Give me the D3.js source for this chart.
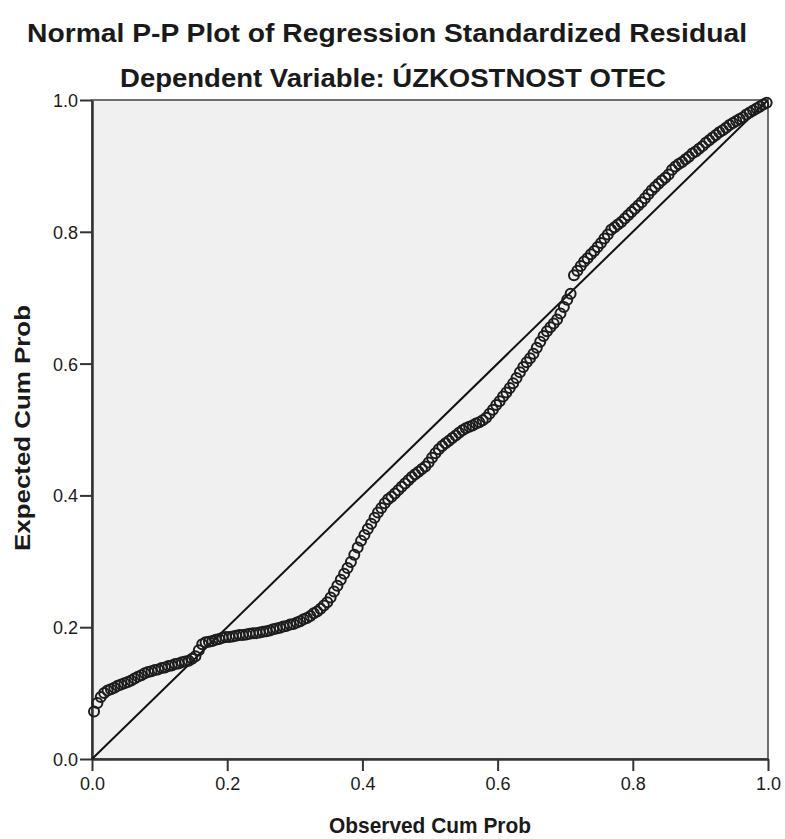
<!DOCTYPE html>
<html>
<head>
  <meta charset="utf-8">
  <title>pp-plot</title>
  <style>
    * { margin: 0; padding: 0; }
    body { background: #fff; }
    text { font-family: "Liberation Sans", Arial, sans-serif; fill: #1a1a1a; }
  </style>
</head>
<body>
  <svg id="svg"></svg>
  <script src="https://cdnjs.cloudflare.com/ajax/libs/d3/7.8.5/d3.min.js"></script>
  <script>
    const title = 'Normal P-P Plot of Regression Standardized Residual';
    const subtitle = 'Dependent Variable: ÚZKOSTNOST OTEC';
    const xTitle = 'Observed Cum Prob';
    const yTitle = 'Expected Cum Prob';
    const tickValues = [0, 0.2, 0.4, 0.6, 0.8, 1.0];

    // observed cumulative probability of each case
    const observed = [
      0.003, 0.008, 0.013, 0.018, 0.023, 0.028, 0.033, 0.038, 0.043, 0.048,
      0.053, 0.058, 0.063, 0.068, 0.073, 0.078, 0.083, 0.088, 0.093, 0.098,
      0.103, 0.108, 0.113, 0.118, 0.123, 0.128, 0.133, 0.138, 0.143, 0.148,
      0.153, 0.158, 0.163, 0.168, 0.173, 0.178, 0.183, 0.188, 0.193, 0.198,
      0.203, 0.208, 0.213, 0.218, 0.223, 0.228, 0.233, 0.238, 0.243, 0.248,
      0.253, 0.258, 0.263, 0.268, 0.273, 0.278, 0.283, 0.288, 0.293, 0.298,
      0.303, 0.308, 0.313, 0.318, 0.323, 0.328, 0.333, 0.338, 0.343, 0.348,
      0.353, 0.358, 0.363, 0.368, 0.373, 0.378, 0.383, 0.388, 0.393, 0.398,
      0.403, 0.408, 0.413, 0.418, 0.423, 0.428, 0.433, 0.438, 0.443, 0.448,
      0.453, 0.458, 0.463, 0.468, 0.473, 0.478, 0.483, 0.488, 0.493, 0.498,
      0.503, 0.508, 0.513, 0.518, 0.523, 0.528, 0.533, 0.538, 0.543, 0.548,
      0.553, 0.558, 0.563, 0.568, 0.573, 0.578, 0.583, 0.588, 0.593, 0.598,
      0.603, 0.608, 0.613, 0.618, 0.623, 0.628, 0.633, 0.638, 0.643, 0.648,
      0.653, 0.658, 0.663, 0.668, 0.673, 0.678, 0.683, 0.688, 0.693, 0.698,
      0.703, 0.708, 0.713, 0.718, 0.723, 0.728, 0.733, 0.738, 0.743, 0.748,
      0.753, 0.758, 0.763, 0.768, 0.773, 0.778, 0.783, 0.788, 0.793, 0.798,
      0.803, 0.808, 0.813, 0.818, 0.823, 0.828, 0.833, 0.838, 0.843, 0.848,
      0.853, 0.858, 0.863, 0.868, 0.873, 0.878, 0.883, 0.888, 0.893, 0.898,
      0.903, 0.908, 0.913, 0.918, 0.923, 0.928, 0.933, 0.938, 0.943, 0.948,
      0.953, 0.958, 0.963, 0.968, 0.973, 0.978, 0.983, 0.988, 0.993, 0.998
    ];

    // expected cumulative probability
    const expected = [
      0.072, 0.085, 0.094, 0.100, 0.104, 0.106, 0.108, 0.111, 0.113, 0.115,
      0.117, 0.119, 0.122, 0.125, 0.127, 0.130, 0.132, 0.133, 0.135, 0.136,
      0.138, 0.139, 0.141, 0.142, 0.144, 0.145, 0.147, 0.148, 0.149, 0.152,
      0.156, 0.165, 0.174, 0.177, 0.178, 0.179, 0.181, 0.182, 0.184, 0.185,
      0.185, 0.186, 0.187, 0.188, 0.188, 0.189, 0.190, 0.191, 0.191, 0.192,
      0.193, 0.194, 0.195, 0.197, 0.198, 0.199, 0.201, 0.202, 0.204, 0.205,
      0.207, 0.209, 0.212, 0.214, 0.217, 0.221, 0.224, 0.228, 0.233, 0.238,
      0.245, 0.254, 0.263, 0.272, 0.281, 0.290, 0.299, 0.310, 0.321, 0.331,
      0.340, 0.349, 0.357, 0.366, 0.374, 0.381, 0.388, 0.394, 0.398, 0.403,
      0.408, 0.413, 0.418, 0.423, 0.428, 0.432, 0.436, 0.440, 0.444, 0.450,
      0.457, 0.464, 0.470, 0.475, 0.479, 0.483, 0.487, 0.491, 0.495, 0.499,
      0.502, 0.504, 0.506, 0.509, 0.511, 0.514, 0.518, 0.524, 0.530, 0.537,
      0.543, 0.550, 0.556, 0.563, 0.570, 0.578, 0.587, 0.595, 0.602, 0.608,
      0.615, 0.624, 0.633, 0.642, 0.649, 0.655, 0.661, 0.667, 0.676, 0.686,
      0.697, 0.706, 0.734, 0.741, 0.748, 0.755, 0.760, 0.766, 0.771, 0.777,
      0.783, 0.790, 0.796, 0.803, 0.807, 0.811, 0.815, 0.820, 0.825, 0.830,
      0.835, 0.840, 0.845, 0.851, 0.857, 0.863, 0.868, 0.873, 0.878, 0.882,
      0.887, 0.894, 0.899, 0.903, 0.906, 0.910, 0.914, 0.919, 0.922, 0.926,
      0.930, 0.935, 0.939, 0.943, 0.947, 0.951, 0.954, 0.958, 0.962, 0.965,
      0.968, 0.971, 0.974, 0.978, 0.981, 0.984, 0.987, 0.990, 0.993, 0.996
    ];

    const dim = {
      width: 785,
      height: 839,
      margin: { top: 100, right: 17, bottom: 80, left: 92 }
    };
    const W = dim.width, H = dim.height, m = dim.margin;

    const svg = d3.select('#svg').attr('width', W).attr('height', H);

    const x = d3.scaleLinear().domain([0, 1]).range([m.left, W - m.right]);
    const y = d3.scaleLinear().domain([0, 1]).range([H - m.bottom, m.top]);

    // titles
    svg.append('text')
      .attr('x', 387).attr('y', 42)
      .attr('text-anchor', 'middle')
      .attr('textLength', 720).attr('lengthAdjust', 'spacingAndGlyphs')
      .style('font-size', '25px').style('font-weight', 'bold')
      .text(title);

    svg.append('text')
      .attr('x', 393).attr('y', 87)
      .attr('text-anchor', 'middle')
      .attr('textLength', 546).attr('lengthAdjust', 'spacingAndGlyphs')
      .style('font-size', '25px').style('font-weight', 'bold')
      .text(subtitle);

    // plot background
    svg.append('rect')
      .attr('x', x(0)).attr('y', y(1))
      .attr('width', x(1) - x(0)).attr('height', y(0) - y(1))
      .attr('fill', '#f0f0f0')
      .attr('stroke', '#6e6e6e').attr('stroke-width', 2);

    const fmt = d3.format('.1f');

    const xAxis = svg.append('g')
      .attr('transform', `translate(0,${y(0)})`)
      .call(d3.axisBottom(x).tickValues(tickValues).tickFormat(fmt).tickSize(12).tickSizeOuter(0).tickPadding(6));

    const yAxis = svg.append('g')
      .attr('transform', `translate(${x(0)},0)`)
      .call(d3.axisLeft(y).tickValues(tickValues).tickFormat(fmt).tickSize(12).tickSizeOuter(0).tickPadding(2));

    [xAxis, yAxis].forEach(g => {
      g.select('.domain').attr('stroke', '#333').attr('stroke-width', 2.5);
      g.selectAll('.tick line').attr('stroke', '#333').attr('stroke-width', 2);
      g.selectAll('.tick text')
        .style('font-family', '"Liberation Sans", Arial, sans-serif')
        .style('font-size', '18px').attr('fill', '#1a1a1a');
    });
    yAxis.selectAll('.tick text').attr('dy', '0.36em');

    // reference line
    svg.append('line')
      .attr('x1', x(0)).attr('y1', y(0))
      .attr('x2', x(1)).attr('y2', y(1))
      .attr('stroke', '#111').attr('stroke-width', 2);

    // points
    const pts = observed.map((o, i) => ({ o, e: expected[i] }));
    svg.append('g')
      .selectAll('circle')
      .data(pts)
      .enter()
      .append('circle')
      .attr('cx', d => x(d.o))
      .attr('cy', d => y(d.e))
      .attr('r', 5)
      .attr('fill', 'none')
      .attr('stroke', '#1c1c1c')
      .attr('stroke-width', 2);

    // axis titles
    svg.append('text')
      .attr('x', 430).attr('y', 833)
      .attr('text-anchor', 'middle')
      .attr('textLength', 202).attr('lengthAdjust', 'spacingAndGlyphs')
      .style('font-size', '22px').style('font-weight', 'bold')
      .text(xTitle);

    svg.append('text')
      .attr('transform', 'translate(30,428) rotate(-90)')
      .attr('text-anchor', 'middle')
      .attr('textLength', 246).attr('lengthAdjust', 'spacingAndGlyphs')
      .style('font-size', '22px').style('font-weight', 'bold')
      .text(yTitle);
  </script>
</body>
</html>
